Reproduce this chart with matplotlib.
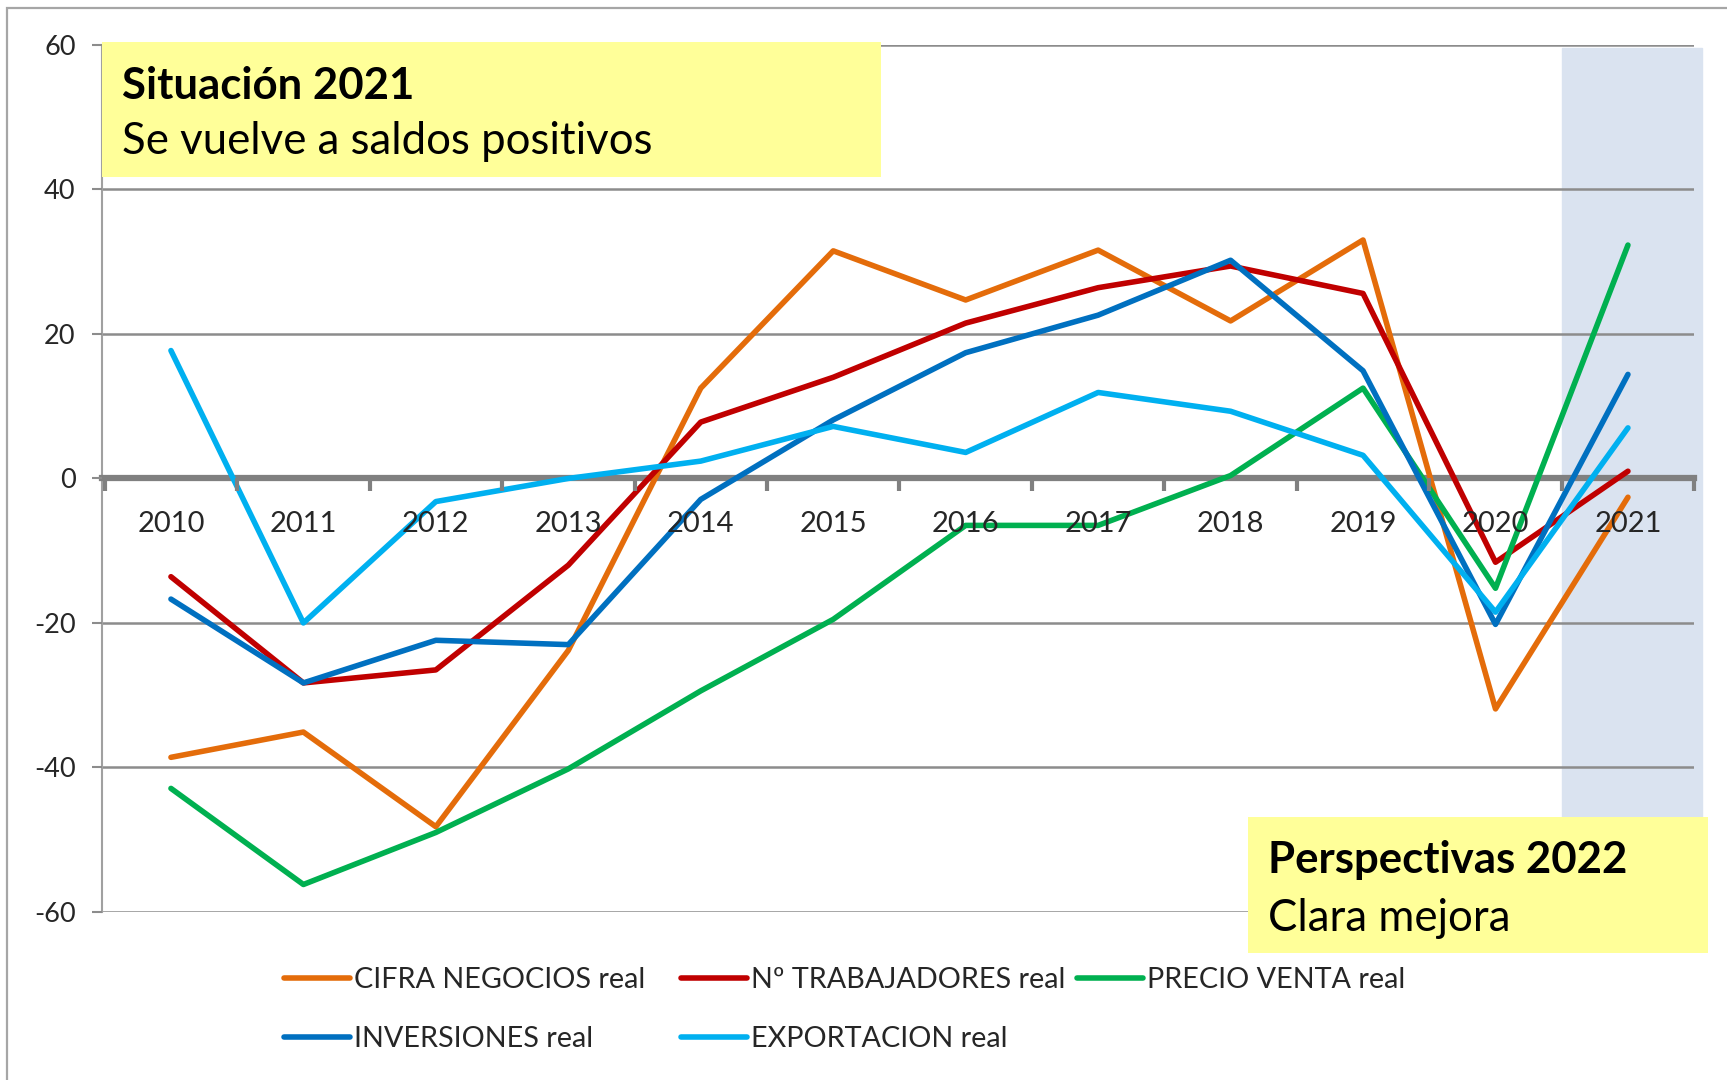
import matplotlib
matplotlib.use("Agg")
import matplotlib.pyplot as plt
from matplotlib.patches import Rectangle

plt.rcParams['font.family'] = ['Lato', 'DejaVu Sans']
plt.rcParams['axes.unicode_minus'] = False

# data
years = ['2010', '2011', '2012', '2013', '2014', '2015', '2016', '2017', '2018', '2019', '2020', '2021']
cifra_negocios = [-38.6, -35.1, -48.2, -23.8, 12.5, 31.5, 24.7, 31.6, 21.8, 33.0, -31.9, -2.6]
trabajadores = [-13.6, -28.3, -26.5, -12.0, 7.8, 14.0, 21.5, 26.4, 29.4, 25.6, -11.6, 1.0]
precio_venta = [-42.9, -56.2, -49.0, -40.2, -29.4, -19.5, -6.5, -6.5, 0.4, 12.5, -15.2, 32.3]
inversiones = [-16.7, -28.3, -22.4, -23.0, -2.9, 8.1, 17.4, 22.6, 30.2, 14.9, -20.2, 14.4]
exportacion = [17.7, -20.0, -3.2, 0.0, 2.4, 7.2, 3.6, 11.9, 9.3, 3.2, -18.5, 7.0]

series = [cifra_negocios, trabajadores, precio_venta, inversiones, exportacion]
labels = ['CIFRA NEGOCIOS real', 'Nº TRABAJADORES real', 'PRECIO VENTA real',
          'INVERSIONES real', 'EXPORTACION real']
colors = ['#E46C0A', '#C00000', '#00B050', '#0070C0', '#00B0F0']
y_ticks = [-60, -40, -20, 0, 20, 40, 60]

fig = plt.figure(figsize=(17.27, 10.80), dpi=100)
ax = fig.add_axes([0.0591, 0.1556, 0.9219, 0.8028])

x = list(range(len(years)))

# shaded band for the last year (slightly wider than the plot, like the original)
ax.axvspan(10.5, 11.56, ymin=0, ymax=(59.6 + 60) / 120, color='#DAE3F0', zorder=0.5, clip_on=False)

# horizontal gridlines below the series
for yt in y_ticks:
    if yt != 0:
        ax.axhline(yt, color='#8C8C8C', lw=1.8, zorder=1)

lines = []
for vals, lab, col in zip(series, labels, colors):
    ln, = ax.plot(x, vals, color=col, lw=4.0, label=lab, zorder=2,
                  solid_joinstyle='round', solid_capstyle='round')
    lines.append(ln)

ax.set_xlim(-0.52, 11.5)
ax.set_ylim(-60, 60)

# zero axis with ticks between categories
ax.spines['bottom'].set_position(('data', 0))
ax.spines['bottom'].set_color('#808080')
ax.spines['bottom'].set_linewidth(4.5)
ax.spines['bottom'].set_zorder(1.5)
ax.spines['left'].set_color('#A0A0A0')
ax.spines['left'].set_linewidth(1.5)
ax.spines['left'].set_zorder(1.5)
ax.spines['top'].set_visible(False)
ax.spines['right'].set_visible(False)
ax.set_axisbelow(False)

ax.set_xticks(x)
ax.set_xticklabels(years)
ax.set_xticks([i - 0.5 for i in range(len(years) + 1)], minor=True)
ax.tick_params(axis='x', which='major', length=0, pad=23.5, labelsize=21, labelcolor='#262626')
ax.tick_params(axis='x', which='minor', length=9, width=3, color='#808080', direction='out')

ax.set_yticks(y_ticks)
ax.tick_params(axis='y', length=7, width=1.5, color='#8C8C8C', pad=12, labelsize=19.5,
               labelcolor='#262626')

# outer frame of the chart
fig.add_artist(Rectangle((0.004, -0.1), 1.1, 0.1 + 0.9926, transform=fig.transFigure,
                         fill=False, ec='#A6A6A6', lw=1.6))

# annotation boxes
fig.add_artist(Rectangle((0.0591, 0.8361), 0.451, 0.125, transform=fig.transFigure,
                         fc='#FFFF99', ec='none', zorder=3))
fig.text(0.0706, 0.9085, 'Situación 2021', fontsize=31.5, fontweight='bold', color='black',
         va='baseline', zorder=4)
fig.text(0.0706, 0.8574, 'Se vuelve a saldos positivos', fontsize=31.5, color='black',
         va='baseline', zorder=4)

fig.add_artist(Rectangle((0.7226, 0.1176), 0.2664, 0.1259, transform=fig.transFigure,
                         fc='#FFFF99', ec='none', zorder=3))
fig.text(0.7342, 0.1917, 'Perspectivas 2022', fontsize=31.5, fontweight='bold', color='black',
         va='baseline', zorder=4)
fig.text(0.7342, 0.1380, 'Clara mejora', fontsize=31.5, color='black', va='baseline', zorder=4)

# legend laid out in fixed columns
cols = [[0, 3], [1, 4], [2]]
col_x = [0.1644, 0.3943, 0.6236]
for idx, x0 in zip(cols, col_x):
    fig.legend([lines[i] for i in idx], [labels[i] for i in idx], loc='upper left',
               bbox_to_anchor=(x0, 0.1046), frameon=False, borderpad=0, borderaxespad=0,
               handlelength=2.3, handletextpad=0.15, labelspacing=1.14, fontsize=20.7,
               labelcolor='#262626')

fig.savefig('out.png', dpi=100)
